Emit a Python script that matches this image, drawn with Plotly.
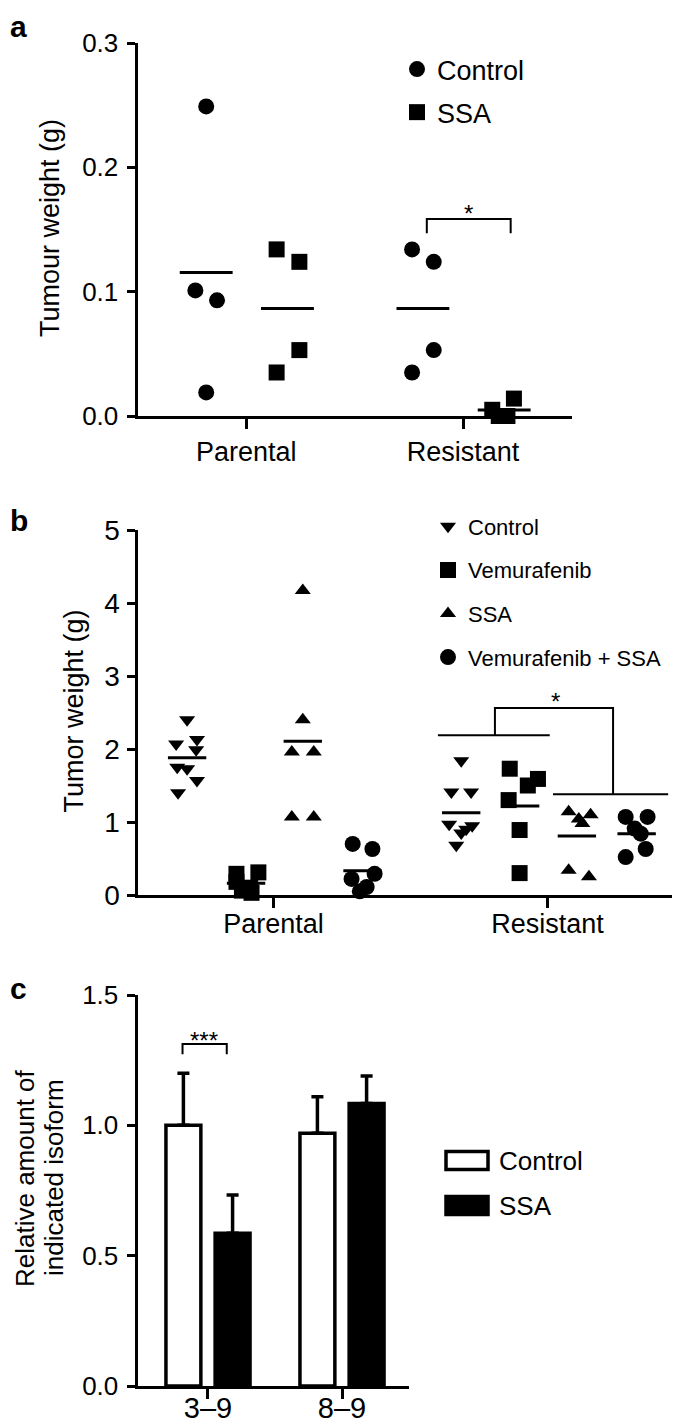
import numpy as np
import plotly.graph_objects as go

# ---------------- Panel a data ----------------
a_groups = ["Parental", "Resistant"]
a_treatments = ["Control", "SSA"]
a_parental_control = [0.249, 0.101, 0.093, 0.019]
a_parental_ssa = [0.134, 0.124, 0.053, 0.035]
a_resistant_control = [0.134, 0.124, 0.053, 0.035]
a_resistant_ssa = [0.014, 0.005, 0.0, 0.0]
a_yticks = [0.0, 0.1, 0.2, 0.3]

# ---------------- Panel b data ----------------
b_groups = ["Parental", "Resistant"]
b_treatments = ["Control", "Vemurafenib", "SSA", "Vemurafenib + SSA"]
b_parental_control = [2.40, 2.07, 2.13, 1.99, 1.75, 1.73, 1.57, 1.40]
b_parental_vemurafenib = [0.31, 0.29, 0.18, 0.10, 0.06, 0.03]
b_parental_ssa = [4.17, 2.40, 1.96, 1.96, 1.07, 1.07]
b_parental_combo = [0.70, 0.63, 0.29, 0.22, 0.11, 0.05]
b_resistant_control = [1.84, 1.41, 1.41, 0.97, 0.95, 0.90, 0.85, 0.68]
b_resistant_vemurafenib = [1.73, 1.59, 1.50, 1.30, 0.89, 0.30]
b_resistant_ssa = [1.14, 1.10, 1.04, 0.98, 0.34, 0.25]
b_resistant_combo = [1.07, 1.07, 0.91, 0.84, 0.63, 0.52]
b_yticks = [0, 1, 2, 3, 4, 5]

# ---------------- Panel c data ----------------
c_isoforms = ["3–9", "8–9"]
c_control_mean = [1.00, 0.97]
c_control_err = [0.20, 0.14]
c_ssa_mean = [0.586, 1.084]
c_ssa_err = [0.147, 0.105]
c_yticks = [0.0, 0.5, 1.0, 1.5]

# ---------------- styling / layout constants ----------------
W, H = 685, 1426
FONT = "Liberation Sans, Arial, Helvetica, sans-serif"
AX_LEFT = 129.5


def px_x(p):
    return p / W


def px_y(p):
    return 1 - p / H


a_values = {
    ("Parental", "Control"): a_parental_control,
    ("Parental", "SSA"): a_parental_ssa,
    ("Resistant", "Control"): a_resistant_control,
    ("Resistant", "SSA"): a_resistant_ssa,
}
a_offset = {"Control": -0.185, "SSA": 0.19}
a_symbol = {"Control": "circle", "SSA": "square"}
a_jitter = {
    ("Parental", "Control"): [0.0, -0.05, 0.05, 0.0],
    ("Parental", "SSA"): [-0.05, 0.055, 0.055, -0.05],
    ("Resistant", "Control"): [-0.05, 0.05, 0.05, -0.05],
    ("Resistant", "SSA"): [0.045, -0.055, -0.025, 0.015],
}

b_values = {
    ("Parental", "Control"): b_parental_control,
    ("Parental", "Vemurafenib"): b_parental_vemurafenib,
    ("Parental", "SSA"): b_parental_ssa,
    ("Parental", "Vemurafenib + SSA"): b_parental_combo,
    ("Resistant", "Control"): b_resistant_control,
    ("Resistant", "Vemurafenib"): b_resistant_vemurafenib,
    ("Resistant", "SSA"): b_resistant_ssa,
    ("Resistant", "Vemurafenib + SSA"): b_resistant_combo,
}
b_offset = {"Control": -0.315, "Vemurafenib": -0.10, "SSA": 0.107, "Vemurafenib + SSA": 0.325}
b_symbol = {"Control": "triangle-down", "Vemurafenib": "square", "SSA": "triangle-up",
            "Vemurafenib + SSA": "circle"}
b_size = {"Control": 14, "Vemurafenib": 16, "SSA": 14, "Vemurafenib + SSA": 16}
b_jitter = {
    ("Parental", "Control"): [0.0, -0.04, 0.036, 0.033, -0.036, 0.0, 0.036, -0.033],
    ("Parental", "Vemurafenib"): [0.045, -0.035, -0.035, 0.015, -0.015, 0.02],
    ("Parental", "SSA"): [0.0, 0.0, -0.04, 0.04, -0.04, 0.04],
    ("Parental", "Vemurafenib + SSA"): [-0.036, 0.036, 0.044, -0.04, 0.015, -0.01],
    ("Resistant", "Control"): [0.0, -0.036, 0.036, -0.044, 0.04, 0.018, 0.0, -0.018],
    ("Resistant", "Vemurafenib"): [-0.038, 0.065, 0.028, -0.042, -0.002, -0.002],
    ("Resistant", "SSA"): [-0.03, 0.05, 0.007, 0.02, -0.03, 0.044],
    ("Resistant", "Vemurafenib + SSA"): [-0.04, 0.04, -0.007, 0.015, 0.033, -0.04],
}

fig = go.Figure()

# ---------------- Panel a traces ----------------
for gi, g in enumerate(a_groups):
    for t in a_treatments:
        vals = a_values[(g, t)]
        center = gi + 1 + a_offset[t]
        xs = [center + j for j in a_jitter[(g, t)]]
        fig.add_trace(go.Scatter(
            x=xs, y=vals, mode="markers", name=t,
            marker=dict(symbol=a_symbol[t], size=16, color="black", line=dict(width=0)),
            legend="legend", legendgroup="a_" + t, showlegend=(gi == 0),
            xaxis="x", yaxis="y", cliponaxis=False))
        m = float(np.mean(vals))
        fig.add_trace(go.Scatter(
            x=[center - 0.122, center + 0.122], y=[m, m], mode="lines",
            line=dict(color="black", width=3), showlegend=False, hoverinfo="skip",
            xaxis="x", yaxis="y", cliponaxis=False))

# ---------------- Panel b traces ----------------
for gi, g in enumerate(b_groups):
    for t in b_treatments:
        vals = b_values[(g, t)]
        center = gi + 1 + b_offset[t]
        xs = [center + j for j in b_jitter[(g, t)]]
        fig.add_trace(go.Scatter(
            x=xs, y=vals, mode="markers", name=t,
            marker=dict(symbol=b_symbol[t], size=b_size[t], color="black", line=dict(width=0)),
            legend="legend2", legendgroup="b_" + t, showlegend=(gi == 0),
            xaxis="x2", yaxis="y2", cliponaxis=False))
        m = float(np.mean(vals))
        fig.add_trace(go.Scatter(
            x=[center - 0.07, center + 0.07], y=[m, m], mode="lines",
            line=dict(color="black", width=3), showlegend=False, hoverinfo="skip",
            xaxis="x2", yaxis="y2", cliponaxis=False))

# ---------------- Panel c traces ----------------
fig.add_trace(go.Bar(
    x=c_isoforms, y=c_control_mean, name="Control", showlegend=False,
    marker=dict(color="white", line=dict(color="black", width=3.5)),
    error_y=dict(type="data", symmetric=False, array=c_control_err,
                 arrayminus=[0] * len(c_control_err), color="black", thickness=3.5, width=6),
    xaxis="x3", yaxis="y3"))
fig.add_trace(go.Bar(
    x=c_isoforms, y=c_ssa_mean, name="SSA", showlegend=False,
    marker=dict(color="black", line=dict(color="black", width=3.5)),
    error_y=dict(type="data", symmetric=False, array=c_ssa_err,
                 arrayminus=[0] * len(c_ssa_err), color="black", thickness=3.5, width=6),
    xaxis="x3", yaxis="y3"))

axis_common = dict(showgrid=False, zeroline=False, showline=True, linecolor="black",
                   linewidth=3, ticks="outside", tickcolor="black", tickwidth=3,
                   fixedrange=True)

shapes = []
# panel a significance bracket
shapes.append(dict(type="path", xref="x", yref="y",
                   path="M 1.833,0.147 L 1.833,0.1585 L 2.22,0.1585 L 2.22,0.147",
                   line=dict(color="black", width=2)))
# panel b brackets
shapes.append(dict(type="line", xref="x2", yref="y2", x0=1.60, x1=2.008, y0=2.19, y1=2.19,
                   line=dict(color="black", width=2)))
shapes.append(dict(type="line", xref="x2", yref="y2", x0=2.02, x1=2.44, y0=1.38, y1=1.38,
                   line=dict(color="black", width=2)))
shapes.append(dict(type="path", xref="x2", yref="y2",
                   path="M 1.808,2.19 L 1.808,2.56 L 2.239,2.56 L 2.239,1.38",
                   line=dict(color="black", width=2)))
# panel c bracket
shapes.append(dict(type="path", xref="x3", yref="y3",
                   path="M -0.19,1.273 L -0.19,1.312 L 0.14,1.312 L 0.14,1.273",
                   line=dict(color="black", width=2)))
# panel c legend boxes
shapes.append(dict(type="rect", xref="paper", yref="paper",
                   x0=px_x(438), x1=px_x(480), y0=px_y(1161.5), y1=px_y(1143.5),
                   fillcolor="white", line=dict(color="black", width=3.5)))
shapes.append(dict(type="rect", xref="paper", yref="paper",
                   x0=px_x(438), x1=px_x(480), y0=px_y(1206.5), y1=px_y(1188.5),
                   fillcolor="black", line=dict(color="black", width=3.5)))

annotations = []


def ann(text, x, y, size, xref="paper", yref="paper", xanchor="center", yanchor="middle",
        angle=0, bold=False):
    annotations.append(dict(
        text=("<b>%s</b>" % text) if bold else text, x=x, y=y, xref=xref, yref=yref,
        xanchor=xanchor, yanchor=yanchor, showarrow=False, textangle=angle,
        font=dict(family=FONT, size=size, color="black")))


# panel letters
ann("a", 0, 1, 30, xanchor="left", yanchor="top", bold=True)
ann("b", 0, px_y(512.6), 30, xanchor="left", bold=True)
ann("c", 0, px_y(980.3), 30, xanchor="left", bold=True)
# axis titles
ann("Tumour weight (g)", px_x(42), px_y(220), 27, angle=-90)
ann("Tumor weight (g)", px_x(65), px_y(703.5), 27, angle=-90)
ann("Relative amount of", 0, px_y(1170), 26, xanchor="left", angle=-90)
ann("indicated isoform", px_x(46), px_y(1170), 26, angle=-90)
# significance stars
ann("*", 2.025, 0.163, 24, xref="x", yref="y")
ann("*", 2.03, 2.652, 24, xref="x2", yref="y2")
ann("***", -0.032, 1.327, 24, xref="x3", yref="y3")
# panel c legend labels
ann("Control", px_x(489), px_y(1152.5), 26, xanchor="left")
ann("SSA", px_x(489), px_y(1197.5), 26, xanchor="left")

legend_common = dict(xanchor="left", yanchor="top", bgcolor="rgba(0,0,0,0)",
                     borderwidth=0, traceorder="grouped", itemclick=False,
                     itemdoubleclick=False)

fig.update_layout(
    width=W, height=H,
    margin=dict(l=0, r=0, t=0, b=0, autoexpand=False),
    paper_bgcolor="white", plot_bgcolor="white",
    font=dict(family=FONT, color="black"),
    barmode="group", bargap=0.266, bargroupgap=0.29,
    xaxis=dict(domain=[px_x(AX_LEFT), px_x(564)], range=[0.498, 2.503], anchor="y",
               tickvals=[1, 2], ticktext=a_groups, ticklen=10,
               tickfont=dict(family=FONT, size=27, color="black"), **axis_common),
    yaxis=dict(domain=[px_y(408), px_y(35)], range=[0, 0.3], anchor="x",
               tickvals=a_yticks, ticktext=["%.1f" % v for v in a_yticks], ticklen=8,
               ticklabelstandoff=3,
               tickfont=dict(family=FONT, size=26, color="black"), **axis_common),
    xaxis2=dict(domain=[px_x(AX_LEFT), px_x(664)], range=[0.504, 2.454], anchor="y2",
                tickvals=[1, 2], ticktext=b_groups, ticklen=10, ticklabelstandoff=-7,
                tickfont=dict(family=FONT, size=27, color="black"), **axis_common),
    yaxis2=dict(domain=[px_y(887), px_y(522)], range=[0, 5], anchor="x2",
                tickvals=b_yticks, ticktext=[str(v) for v in b_yticks], ticklen=8,
                ticklabelstandoff=1,
                tickfont=dict(family=FONT, size=28, color="black"), **axis_common),
    xaxis3=dict(domain=[px_x(AX_LEFT), px_x(401)], range=[-0.526, 1.5], anchor="y3",
                type="category", ticklen=10, ticklabelstandoff=-16,
                tickfont=dict(family=FONT, size=29, color="black"), **axis_common),
    yaxis3=dict(domain=[px_y(1378), px_y(987)], range=[0, 1.5], anchor="x3",
                tickvals=c_yticks, ticktext=["%.1f" % v for v in c_yticks], ticklen=8,
                ticklabelstandoff=3,
                tickfont=dict(family=FONT, size=26, color="black"), **axis_common),
    legend=dict(x=px_x(389), y=px_y(37), font=dict(family=FONT, size=27, color="black"),
                tracegroupgap=5, **legend_common),
    legend2=dict(x=px_x(420), y=px_y(497.5), font=dict(family=FONT, size=22, color="black"),
                 tracegroupgap=12, **legend_common),
    shapes=shapes,
    annotations=annotations,
    showlegend=True,
)

fig.write_html("out.html")
